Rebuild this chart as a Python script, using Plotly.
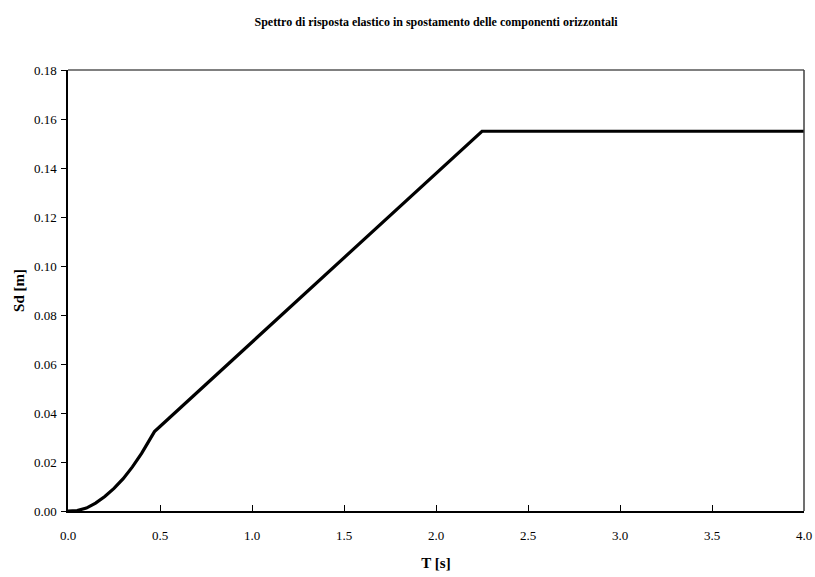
import plotly.graph_objects as go

# Elastic displacement spectrum, horizontal components
period_s = [0.00, 0.05, 0.10, 0.15, 0.20, 0.25, 0.30, 0.35, 0.40, 0.45, 0.47,
            0.50, 0.75, 1.00, 1.25, 1.50, 1.75, 2.00, 2.25,
            2.50, 2.75, 3.00, 3.25, 3.50, 3.75, 4.00]
sd_m = [0.0000, 0.0002, 0.0012, 0.0032, 0.0059, 0.0092, 0.0132, 0.0180, 0.0235, 0.0298, 0.0324,
        0.0345, 0.0517, 0.0689, 0.0861, 0.1033, 0.1206, 0.1378, 0.1550,
        0.1550, 0.1550, 0.1550, 0.1550, 0.1550, 0.1550, 0.1550]

x_ticks = [0.0, 0.5, 1.0, 1.5, 2.0, 2.5, 3.0, 3.5, 4.0]
x_tick_labels = ["0.0", "0.5", "1.0", "1.5", "2.0", "2.5", "3.0", "3.5", "4.0"]
y_ticks = [0.00, 0.02, 0.04, 0.06, 0.08, 0.10, 0.12, 0.14, 0.16, 0.18]
y_tick_labels = ["0.00", "0.02", "0.04", "0.06", "0.08", "0.10", "0.12", "0.14", "0.16", "0.18"]

FONT = "'Liberation Serif', 'Times New Roman', serif"

fig = go.Figure()
fig.add_trace(go.Scatter(
    x=period_s, y=sd_m, mode="lines",
    line=dict(color="black", width=3.2),
    showlegend=False, cliponaxis=False,
))

fig.update_layout(
    width=815, height=577,
    margin=dict(l=68, r=11, t=70, b=66, autoexpand=False),
    paper_bgcolor="white", plot_bgcolor="white",
    font=dict(family=FONT, color="black", size=13),
    title=dict(
        text="<b>Spettro di risposta elastico in spostamento delle componenti orizzontali</b>",
        x=0.5, xanchor="center", xref="paper", y=0.962, yanchor="middle",
        font=dict(family=FONT, size=12, color="black"),
    ),
    xaxis=dict(
        range=[0, 4], tickvals=x_ticks, ticktext=x_tick_labels,
        showgrid=False, zeroline=False, automargin=False,
        showline=True, linecolor="black", linewidth=1.5, mirror=False,
        ticks="inside", ticklen=6, tickcolor="black", tickwidth=1,
        ticklabelstandoff=12,
        tickfont=dict(family=FONT, size=13, color="black"),
        title=dict(text="<b>T [s]</b>", font=dict(family=FONT, size=15, color="black"), standoff=15),
    ),
    yaxis=dict(
        range=[0, 0.18], tickvals=y_ticks, ticktext=y_tick_labels,
        showgrid=False, zeroline=False, automargin=False,
        showline=True, linecolor="black", linewidth=1.5, mirror=False,
        ticks="outside", ticklen=5, tickcolor="black", tickwidth=1,
        ticklabelstandoff=2,
        tickfont=dict(family=FONT, size=13, color="black"),
        title=dict(text="<b>Sd [m]</b>", font=dict(family=FONT, size=15, color="black"), standoff=6),
    ),
    shapes=[
        dict(type="line", xref="paper", yref="paper", x0=0, x1=1, y0=1, y1=1,
             line=dict(color="#808080", width=2)),
        dict(type="line", xref="paper", yref="paper", x0=1, x1=1, y0=0, y1=1,
             line=dict(color="#404040", width=1.5)),
    ],
)

fig.write_html("out.html")
